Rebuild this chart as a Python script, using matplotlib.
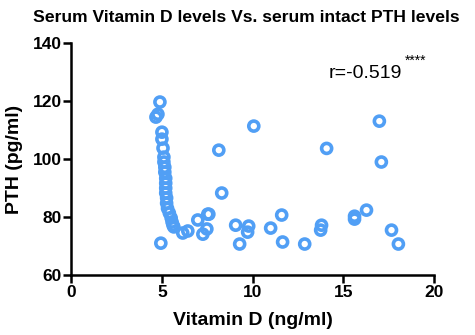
import matplotlib
matplotlib.use("Agg")
import matplotlib.pyplot as plt

plt.rcParams['font.family'] = ['Liberation Sans', 'DejaVu Sans']

vitamin_d = [4.88, 4.66, 4.77, 4.99, 4.99, 5.05, 5.1, 5.1, 5.15, 5.15, 5.2, 5.2,
             5.2, 5.2, 5.25, 5.25, 5.3, 5.4, 5.5, 5.55, 5.6, 5.65, 6.14, 6.42,
             6.97, 7.52, 7.25, 7.47, 4.93, 8.13, 8.29, 7.58, 10.06, 9.06, 9.78,
             9.72, 9.28, 10.99, 11.6, 11.65, 12.87, 14.08, 13.8, 13.75, 15.62,
             15.62, 16.28, 16.99, 17.1, 17.66, 18.04]
pth = [119.7, 114.5, 115.5, 109.3, 106.9, 103.8, 100.7, 99.0, 97.2, 95.5, 93.4, 91.7,
       90.0, 88.3, 86.6, 84.8, 83.0, 81.4, 79.7, 78.3, 77.2, 76.6, 74.5, 75.2,
       79.0, 81.0, 74.1, 75.9, 71.0, 103.1, 88.3, 81.0, 111.4, 77.2, 76.9,
       74.8, 70.7, 76.2, 80.7, 71.4, 70.7, 103.7, 77.2, 75.5, 80.3,
       79.3, 82.4, 113.1, 99.0, 75.5, 70.7]

fig = plt.figure(figsize=(4.75, 3.35), dpi=100)
ax = fig.add_axes([0.1505, 0.179, 0.763, 0.692])
ax.scatter(vitamin_d, pth, s=52, facecolors='none', edgecolors='#519ff5', linewidths=2.6, zorder=3)

ax.set_xlim(0, 20)
ax.set_ylim(60, 140)
ax.set_xticks([0, 5, 10, 15, 20])
ax.set_yticks([60, 80, 100, 120, 140])
for s in ['top', 'right']:
    ax.spines[s].set_visible(False)
for s in ['left', 'bottom']:
    ax.spines[s].set_linewidth(1.8)
ax.tick_params(width=1.8, length=5.5, labelsize=12.5, pad=1.5)
for lab in ax.get_xticklabels() + ax.get_yticklabels():
    lab.set_fontweight('bold')
ax.set_xlabel('Vitamin D (ng/ml)', fontsize=14, fontweight='bold', labelpad=8.5)
ax.set_ylabel('PTH (pg/ml)', fontsize=14, fontweight='bold', labelpad=7)
fig.text(0.518, 0.949, 'Serum Vitamin D levels Vs. serum intact PTH levels',
         ha='center', va='center', fontsize=12.6, fontweight='bold')
ax.text(14.2, 127.9, 'r=-0.519', fontsize=14, va='baseline', ha='left')
ax.text(18.4, 132.6, '****', fontsize=10, va='baseline', ha='left')

fig.savefig('out.png', dpi=100)
